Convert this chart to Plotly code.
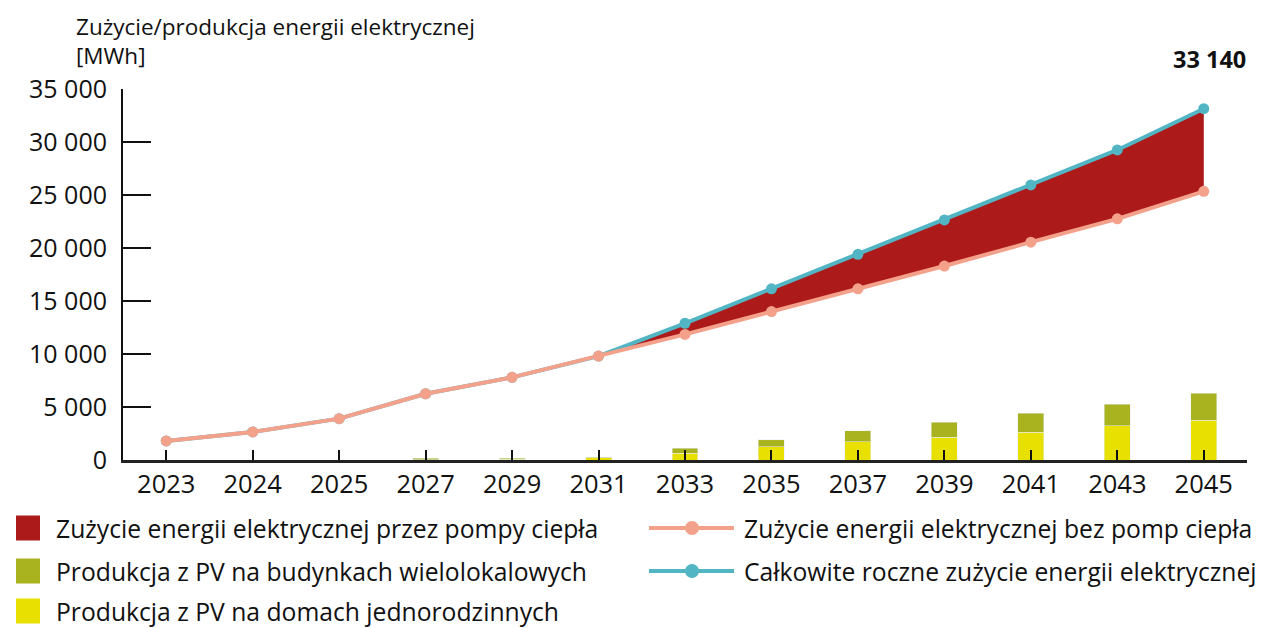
import plotly.graph_objects as go

years = ["2023", "2024", "2025", "2027", "2029", "2031", "2033", "2035", "2037", "2039", "2041", "2043", "2045"]
bez_pomp = [1800, 2650, 3900, 6250, 7800, 9800, 11850, 14000, 16150, 18300, 20550, 22750, 25350]
calkowite = [1800, 2650, 3900, 6250, 7800, 9800, 12900, 16150, 19400, 22650, 25950, 29250, 33140]
pv_jedno = [0, 0, 0, 40, 50, 200, 660, 1230, 1700, 2170, 2640, 3210, 3770]
pv_wielo = [0, 0, 0, 110, 110, 80, 470, 660, 1040, 1410, 1790, 2070, 2550]
y_ticks = [0, 5000, 10000, 15000, 20000, 25000, 30000, 35000]

RED = "#AD1A1A"
SALMON = "#F4A18C"
TEAL = "#52B5C4"
OLIVE = "#A8B31F"
YELLOW = "#E8E000"
TXT = "#111111"
FONT = "Open Sans"

# page body has an 8px margin, so the figure is slightly smaller than the window
OFF = 8
W, H = 1265 - OFF, 628 - OFF
ML, MR, MT, MB = 123 - OFF, 18, 89 - OFF, 168
PW, PH = W - ML - MR, H - MT - MB


def px(x):  # screen pixel -> paper x
    return (x - OFF - ML) / PW


def py(y):  # screen pixel -> paper y
    return (H - MB - (y - OFF)) / PH


start = years.index("2031")

fig = go.Figure()
fig.add_trace(go.Bar(x=years, y=pv_jedno, marker_color=YELLOW, width=0.3,
                     name="Produkcja z PV na domach jednorodzinnych"))
fig.add_trace(go.Bar(x=years, y=pv_wielo, marker_color=OLIVE, width=0.3,
                     name="Produkcja z PV na budynkach wielolokalowych"))
fig.add_trace(go.Scatter(x=years[start:], y=bez_pomp[start:], mode="lines",
                         line=dict(width=0, color="rgba(0,0,0,0)"), hoverinfo="skip"))
fig.add_trace(go.Scatter(x=years[start:], y=calkowite[start:], mode="lines", fill="tonexty",
                         line=dict(width=0, color="rgba(0,0,0,0)"),
                         fillcolor=RED, name="Zużycie energii elektrycznej przez pompy ciepła"))
fig.add_trace(go.Scatter(x=years, y=calkowite, mode="lines+markers",
                         line=dict(color=TEAL, width=4), marker=dict(size=11, color=TEAL),
                         name="Całkowite roczne zużycie energii elektrycznej"))
fig.add_trace(go.Scatter(x=years, y=bez_pomp, mode="lines+markers",
                         line=dict(color=SALMON, width=4), marker=dict(size=11, color=SALMON),
                         name="Zużycie energii elektrycznej bez pomp ciepła"))

# value label above last point
fig.add_annotation(x=len(years) - 1, y=calkowite[-1],
                   text="<b>%s</b>" % f"{calkowite[-1]:,}".replace(",", " "),
                   showarrow=False, yshift=50, xshift=6, font=dict(size=23.5, color=TXT, family=FONT))

# axis title
fig.add_annotation(xref="paper", yref="paper", x=px(74), y=py(9), xanchor="left", yanchor="top",
                   align="left", showarrow=False,
                   text="Zużycie/produkcja energii elektrycznej<br>[MWh]",
                   font=dict(size=22.5, color=TXT, family=FONT))

# custom legend
square_items = [("Zużycie energii elektrycznej przez pompy ciepła", RED, 528),
                ("Produkcja z PV na budynkach wielolokalowych", OLIVE, 571),
                ("Produkcja z PV na domach jednorodzinnych", YELLOW, 611)]
line_items = [("Zużycie energii elektrycznej bez pomp ciepła", SALMON, 528),
              ("Całkowite roczne zużycie energii elektrycznej", TEAL, 571)]
shapes = []
for label, col, yc in square_items:
    shapes.append(dict(type="rect", xref="paper", yref="paper", x0=px(16), x1=px(40),
                       y0=py(yc - 12.5), y1=py(yc + 12.5), fillcolor=col, line=dict(width=0)))
    fig.add_annotation(xref="paper", yref="paper", x=px(54), y=py(yc), xanchor="left", yanchor="middle",
                       showarrow=False, text=label, font=dict(size=24.7, color=TXT, family=FONT))
for label, col, yc in line_items:
    shapes.append(dict(type="line", xref="paper", yref="paper", x0=px(649), x1=px(734),
                       y0=py(yc), y1=py(yc), line=dict(color=col, width=4)))
    shapes.append(dict(type="circle", xref="paper", yref="paper", x0=px(685), x1=px(699),
                       y0=py(yc + 7), y1=py(yc - 7), fillcolor=col, line=dict(width=0)))
    fig.add_annotation(xref="paper", yref="paper", x=px(742), y=py(yc), xanchor="left", yanchor="middle",
                       showarrow=False, text=label, font=dict(size=24.7, color=TXT, family=FONT))

fig.update_layout(
    width=W, height=H,
    margin=dict(l=ML, r=MR, t=MT, b=MB),
    paper_bgcolor="white", plot_bgcolor="white",
    barmode="stack",
    separators=", ",
    font=dict(family=FONT, color=TXT),
    showlegend=False,
    shapes=shapes,
    xaxis=dict(type="category", range=[-0.5, 12.5], showline=True, linecolor="#222", linewidth=2.5,
               ticks="inside", ticklen=10, tickcolor=TXT, tickwidth=2, showgrid=False,
               tickfont=dict(size=25.5, family=FONT, color=TXT), zeroline=False),
    yaxis=dict(range=[0, 35000], tickvals=y_ticks, tickformat=",d", showline=True, linecolor=TXT,
               linewidth=2, ticks="inside", ticklen=28, tickcolor=TXT, tickwidth=2, showgrid=False,
               zeroline=False, tickfont=dict(size=25, family=FONT, color=TXT), ticklabelstandoff=9),
)

fig.write_html("out.html")
